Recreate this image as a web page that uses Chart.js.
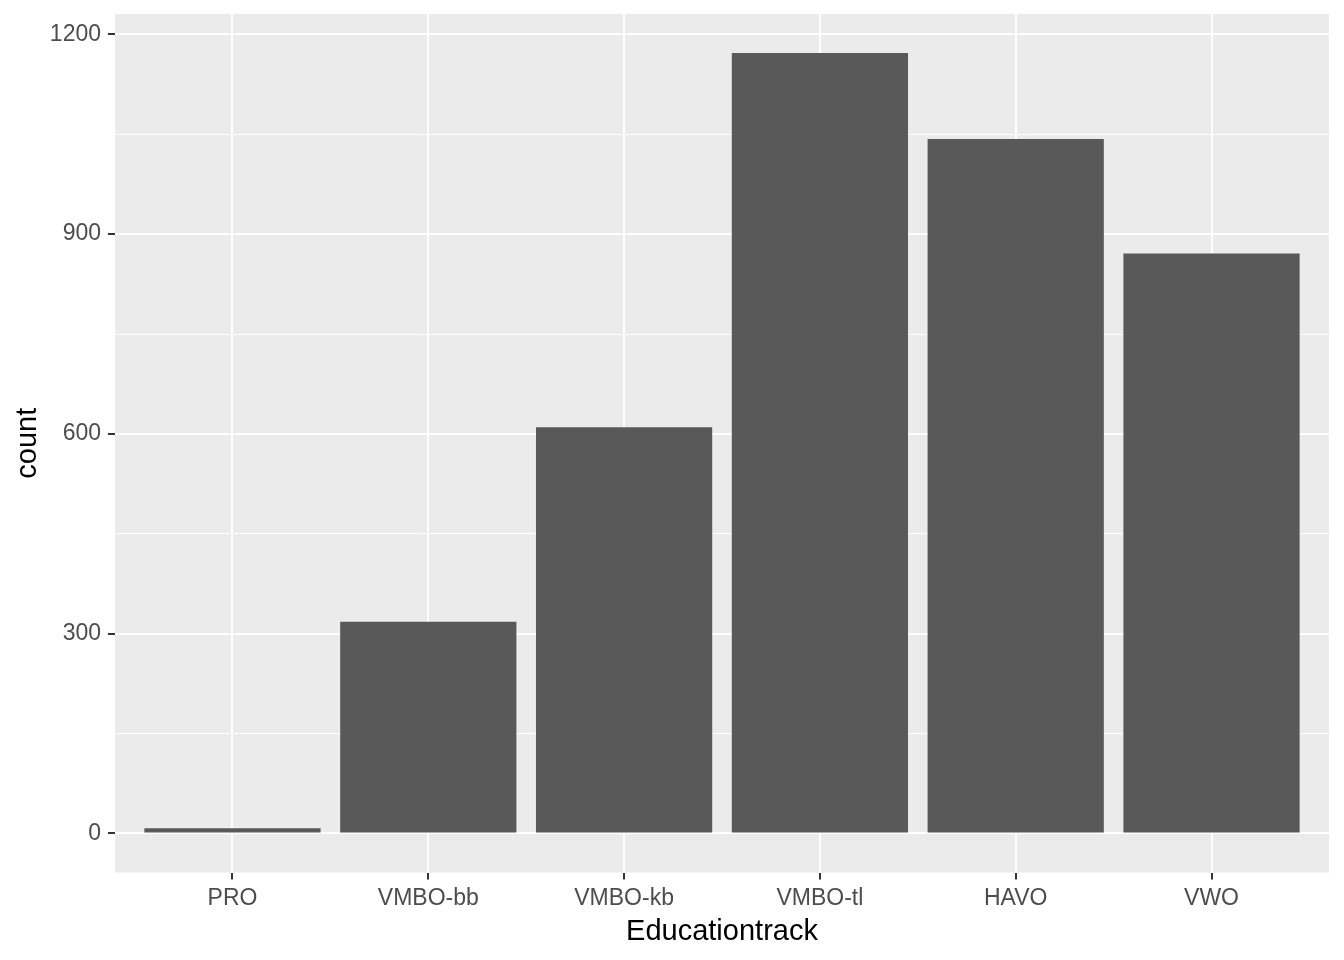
<!DOCTYPE html>
<html>
<head>
<meta charset="utf-8">
<script src="https://cdn.jsdelivr.net/npm/chart.js@4/dist/chart.umd.min.js"></script>
<style>
  html, body { margin: 0; padding: 0; background: #ffffff; }
  canvas { display: block; }
</style>
</head>
<body>
<canvas id="c" width="1344" height="960"></canvas>
<script>
const categories = ["PRO", "VMBO-bb", "VMBO-kb", "VMBO-tl", "HAVO", "VWO"];
const counts = [8, 318, 610, 1172, 1043, 871];
const yTickValues = [0, 150, 300, 450, 600, 750, 900, 1050, 1200];
const yMajorTicks = [0, 300, 600, 900, 1200];

const maxCount = Math.max(...counts);
const yExpand = 0.05 * maxCount;

const panelBg = {
  id: 'panelBg',
  beforeDraw(chart) {
    const {ctx, chartArea: a} = chart;
    ctx.save();
    ctx.fillStyle = '#EBEBEB';
    ctx.fillRect(a.left, a.top, a.right - a.left, a.bottom - a.top);
    ctx.restore();
  }
};

new Chart(document.getElementById('c'), {
  type: 'bar',
  data: {
    datasets: [{
      data: categories.map((c, i) => ({x: i + 1, y: counts[i]})),
      backgroundColor: '#595959',
      borderWidth: 0,
      barPercentage: 0.9,
      categoryPercentage: 1.0
    }]
  },
  options: {
    responsive: false,
    animation: false,
    devicePixelRatio: 1,
    layout: { padding: { top: 14, right: 15, bottom: 0, left: 0 } },
    plugins: { legend: { display: false }, tooltip: { enabled: false } },
    scales: {
      x: {
        type: 'linear',
        min: 0.4,
        max: 6.6,
        offset: false,
        afterBuildTicks(scale) {
          scale.ticks = categories.map((c, i) => ({value: i + 1}));
        },
        afterFit(scale) {
          scale.height = 87.5;
          scale.paddingLeft = 0; scale.paddingRight = 0;
        },
        grid: {
          offset: false,
          color: '#FFFFFF',
          lineWidth: 2,
          drawTicks: true,
          tickLength: 7,
          tickColor: '#333333',
          tickWidth: 2
        },
        border: { display: false },
        ticks: {
          autoSkip: false,
          maxRotation: 0,
          padding: 5,
          color: '#4D4D4D',
          font: { family: '"Liberation Sans", Arial, sans-serif', size: 23 },
          callback: (v) => categories[Math.round(v) - 1] ?? ''
        },
        title: {
          display: true,
          text: 'Educationtrack',
          color: '#000000',
          font: { family: '"Liberation Sans", Arial, sans-serif', size: 29 },
          padding: { top: 0, bottom: 11 }
        }
      },
      y: {
        type: 'linear',
        min: -yExpand,
        max: maxCount + yExpand,
        afterBuildTicks(scale) {
          scale.ticks = yTickValues.map(v => ({value: v}));
        },
        afterFit(scale) {
          scale.width = 115;
          scale.paddingTop = 0; scale.paddingBottom = 0;
        },
        grid: {
          color: '#FFFFFF',
          lineWidth: (ctx) => yMajorTicks.includes(ctx.tick && ctx.tick.value) ? 2 : 1,
          drawTicks: true,
          tickLength: 7,
          tickColor: (ctx) => yMajorTicks.includes(ctx.tick && ctx.tick.value) ? '#333333' : 'rgba(0,0,0,0)',
          tickWidth: 2
        },
        border: { display: false },
        ticks: {
          padding: 7,
          color: '#4D4D4D',
          font: { family: '"Liberation Sans", Arial, sans-serif', size: 23 },
          callback: (v) => yMajorTicks.includes(v) ? String(v) : ''
        },
        title: {
          display: true,
          text: 'count',
          color: '#000000',
          font: { family: '"Liberation Sans", Arial, sans-serif', size: 29 },
          padding: { top: 11, bottom: 0 }
        }
      }
    }
  },
  plugins: [panelBg]
});
</script>
</body>
</html>
